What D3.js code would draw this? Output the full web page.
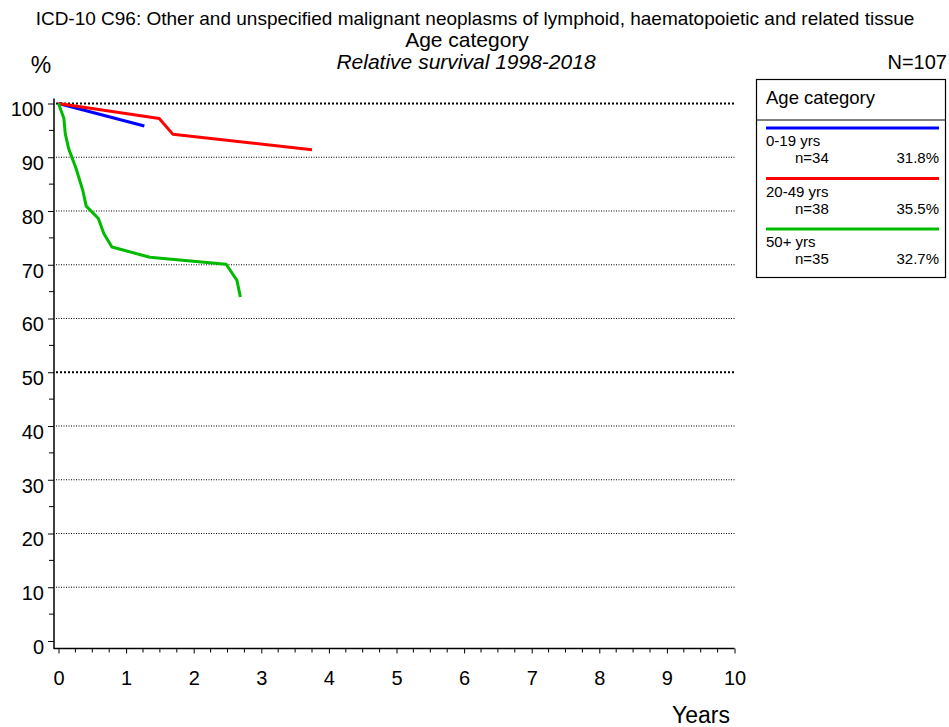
<!DOCTYPE html>
<html>
<head>
<meta charset="utf-8">
<script src="https://cdn.jsdelivr.net/npm/d3@7"></script>
<style>
  html, body { margin: 0; padding: 0; background: #fff; }
  svg { display: block; font-family: "Liberation Sans", Arial, sans-serif; }
</style>
</head>
<body>
<svg id="chart" width="949" height="727"></svg>
<script>
// Relative survival curves by age group: [years, percent]
const groupNames = ["0-19 yrs", "20-49 yrs", "50+ yrs"];
const groupCounts = [34, 38, 35];
const groupShares = ["31.8%", "35.5%", "32.7%"];
const groupColors = ["#0000ff", "#ff0000", "#00bb00"];

const survival0to19 = [[0, 100], [1.27, 95.8]];
const survival20to49 = [[0, 100], [1.49, 97.2], [1.69, 94.3], [3.75, 91.4]];
const survival50plus = [
  [0, 100], [0.08, 97.2], [0.1, 94.4], [0.15, 91.6], [0.26, 87.9],
  [0.36, 83.8], [0.41, 80.9], [0.59, 78.6], [0.67, 75.8], [0.79, 73.3],
  [1.35, 71.4], [2.48, 70.1], [2.64, 67.1], [2.69, 64.0]
];
const seriesList = [survival0to19, survival20to49, survival50plus];

const yTicks = [0, 10, 20, 30, 40, 50, 60, 70, 80, 90, 100];
const xTicks = [0, 1, 2, 3, 4, 5, 6, 7, 8, 9, 10];

const svg = d3.select("#chart");
const x = d3.scaleLinear().domain([0, 10]).range([58.5, 734.5]);
const y = d3.scaleLinear().domain([0, 100]).range([641, 103.5]);

// Titles
svg.append("text").attr("x", 475).attr("y", 25).attr("text-anchor", "middle")
  .attr("font-size", 19).text("ICD-10 C96: Other and unspecified malignant neoplasms of lymphoid, haematopoietic and related tissue");
svg.append("text").attr("x", 467).attr("y", 47).attr("text-anchor", "middle")
  .attr("font-size", 21).text("Age category");
svg.append("text").attr("x", 466).attr("y", 69).attr("text-anchor", "middle")
  .attr("font-size", 21).attr("font-style", "italic").text("Relative survival 1998-2018");
svg.append("text").attr("x", 41).attr("y", 73).attr("text-anchor", "middle")
  .attr("font-size", 23).text("%");
svg.append("text").attr("x", 947).attr("y", 69).attr("text-anchor", "end")
  .attr("font-size", 20).text("N=107");

// Dotted horizontal grid
svg.append("g").selectAll("line").data(yTicks.filter(d => d > 0)).join("line")
  .attr("x1", 56).attr("x2", 736)
  .attr("y1", d => y(d)).attr("y2", d => y(d))
  .attr("stroke", "#000")
  .attr("stroke-width", d => (d === 100 || d === 50) ? 2 : 1)
  .attr("stroke-dasharray", d => (d === 100 || d === 50) ? "2,2" : "1,1.5");

// Y axis
const yAxis = d3.axisLeft(y).tickValues(yTicks).tickSize(6).tickPadding(4).tickSizeOuter(0);
const yg = svg.append("g").attr("transform", "translate(54,0)").call(yAxis);
yg.select(".domain").attr("d", `M0,${y(100) - 5}V649`).attr("stroke-width", 1.5);
yg.selectAll(".tick text").attr("font-size", 20)
  .attr("font-family", "Liberation Sans, Arial, sans-serif").attr("dy", "0.62em");
svg.append("g").selectAll("line").data(d3.range(5, 100, 10)).join("line")
  .attr("x1", 49).attr("x2", 54).attr("y1", d => y(d)).attr("y2", d => y(d))
  .attr("stroke", "#000");

// X axis
const xAxis = d3.axisBottom(x).tickValues(xTicks).tickSize(5).tickPadding(17).tickSizeOuter(0);
const xg = svg.append("g").attr("transform", "translate(0,648.5)").call(xAxis);
xg.select(".domain").attr("d", `M54,0H${x(10)}`).attr("stroke-width", 1.5);
xg.selectAll(".tick text").attr("font-size", 20).attr("font-family", "Liberation Sans, Arial, sans-serif");
svg.append("g").selectAll("line")
  .data(d3.range(0, 40).map(i => i * 0.25).filter(v => v % 1 !== 0)).join("line")
  .attr("x1", d => x(d)).attr("x2", d => x(d)).attr("y1", 648.5).attr("y2", 652.5)
  .attr("stroke", "#000");

svg.append("text").attr("x", 701).attr("y", 723).attr("text-anchor", "middle")
  .attr("font-size", 23).text("Years");

// Survival curves
const line = d3.line().x(d => x(d[0])).y(d => y(d[1]));
svg.append("g").selectAll("path").data(seriesList).join("path")
  .attr("d", line)
  .attr("fill", "none")
  .attr("stroke", (d, i) => groupColors[i])
  .attr("stroke-width", 3)
  .attr("stroke-linejoin", "round");

// Legend
const lg = svg.append("g");
lg.append("rect").attr("x", 756.5).attr("y", 79.5).attr("width", 189).attr("height", 198)
  .attr("fill", "#fff").attr("stroke", "#000").attr("stroke-width", 1.2);
lg.append("line").attr("x1", 756.5).attr("x2", 945.5).attr("y1", 120).attr("y2", 120)
  .attr("stroke", "#000").attr("stroke-width", 1);
lg.append("text").attr("x", 766).attr("y", 104).attr("font-size", 18.5).text("Age category");
groupNames.forEach((name, i) => {
  const top = 128 + i * 50.5;
  lg.append("line").attr("x1", 766).attr("x2", 939).attr("y1", top).attr("y2", top)
    .attr("stroke", groupColors[i]).attr("stroke-width", 3);
  lg.append("text").attr("x", 766).attr("y", top + 18).attr("font-size", 15).text(name);
  lg.append("text").attr("x", 795).attr("y", top + 35).attr("font-size", 15).text("n=" + groupCounts[i]);
  lg.append("text").attr("x", 939).attr("y", top + 35).attr("text-anchor", "end")
    .attr("font-size", 15).text(groupShares[i]);
});
</script>
</body>
</html>
